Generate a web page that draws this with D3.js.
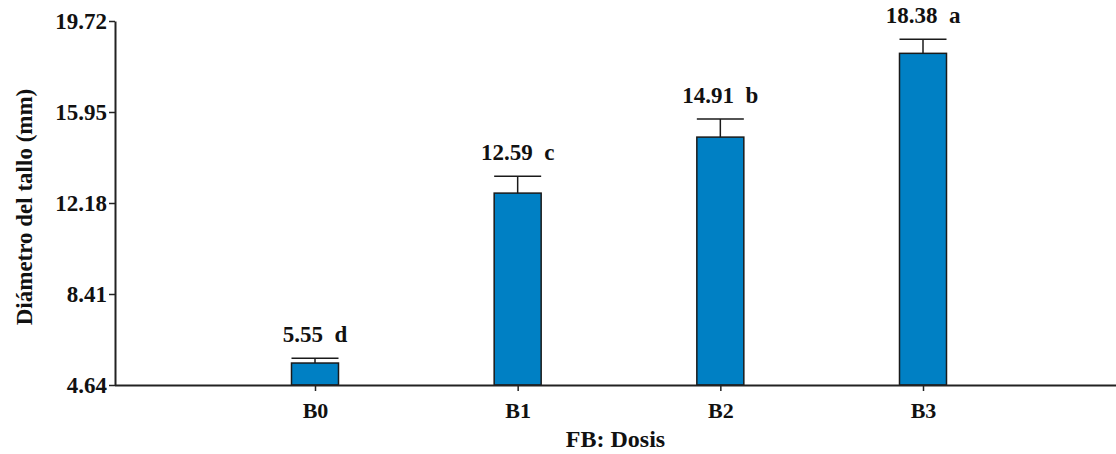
<!DOCTYPE html>
<html><head><meta charset="utf-8">
<script src="https://cdn.jsdelivr.net/npm/d3@7"></script>
</head><body>
<svg id="c" width="1116" height="454" style="position:absolute;left:0;top:0"></svg>
<script>
const categories = ["B0","B1","B2","B3"];
const means = [5.55, 12.59, 14.91, 18.38];
const errors = [0.20, 0.70, 0.75, 0.58];
const letters = ["d","c","b","a"];
const yTicks = [4.64, 8.41, 12.18, 15.95, 19.72];

(function(){
const svg = d3.select("#c");
const pL = 115, pR = 1116, pT = 21, pB = 385;
const y = d3.scaleLinear().domain([4.64, 19.72]).range([pB, pT]);
const x = d3.scalePoint().domain(categories).range([pL + 200, pL + 808]);
const barW = 47;
const styleText = (sel, size) => sel.attr("font-weight", "bold").attr("font-size", size)
  .attr("fill", "#111").style("font-family", '"Liberation Serif"');

svg.selectAll("rect.bar").data(categories).enter().append("rect")
  .attr("x", d => x(d) - barW/2).attr("width", barW)
  .attr("y", (d,i) => y(means[i])).attr("height", (d,i) => y(4.64) - y(means[i]))
  .attr("fill", "#0080c4").attr("stroke", "#1a1a1a").attr("stroke-width", 1.5);

const eg = svg.append("g").attr("stroke", "#1a1a1a").attr("stroke-width", 1.5);
categories.forEach((d,i) => {
  eg.append("line").attr("x1", x(d)).attr("x2", x(d)).attr("y1", y(means[i])).attr("y2", y(means[i]+errors[i]));
  eg.append("line").attr("x1", x(d)-barW/2).attr("x2", x(d)+barW/2).attr("y1", y(means[i]+errors[i])).attr("y2", y(means[i]+errors[i]));
});

svg.selectAll("text.lab").data(categories).enter().append("text")
  .attr("x", d => x(d)).attr("y", (d,i) => y(means[i]+errors[i]) - 16)
  .attr("text-anchor", "middle")
  .text((d,i) => means[i].toFixed(2) + "\u00a0\u00a0" + letters[i])
  .call(styleText, 23);

const ya = svg.append("g").attr("transform", `translate(${pL},0)`)
  .call(d3.axisLeft(y).tickValues(yTicks).tickFormat(d3.format(".2f")).tickSize(6).tickSizeOuter(0));
ya.attr("font-family", null).attr("font-size", null);
ya.select(".domain").attr("stroke", "#222").attr("stroke-width", 2);
ya.selectAll(".tick line").attr("stroke", "#222").attr("stroke-width", 1.5);
ya.selectAll(".tick text").attr("x", -8).call(styleText, 23);

const xa = svg.append("g").attr("transform", `translate(0,${pB})`)
  .call(d3.axisBottom(x).tickSize(6).tickSizeOuter(0));
xa.attr("font-family", null).attr("font-size", null);
xa.select(".domain").attr("d", `M${pL},0.5H${pR}`).attr("stroke", "#222").attr("stroke-width", 2);
xa.selectAll(".tick line").attr("stroke", "#222").attr("stroke-width", 1.5);
xa.selectAll(".tick text").attr("y", 33).attr("dy", null).call(styleText, 22);

svg.append("text").attr("x", (pL+pR)/2).attr("y", 447).attr("text-anchor", "middle")
  .text("FB: Dosis").call(styleText, 24);
svg.append("text").attr("transform", `translate(32,207) rotate(-90)`)
  .attr("text-anchor", "middle").text("Diámetro del tallo (mm)").call(styleText, 23);
})();
</script>
</body></html>
